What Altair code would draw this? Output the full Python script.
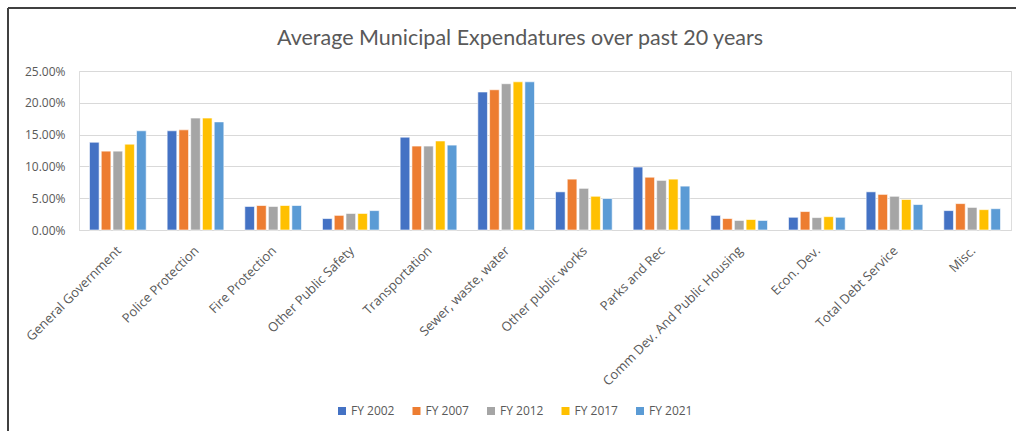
import altair as alt
import pandas as pd

categories = ["General Government", "Police Protection", "Fire Protection", "Other Public Safety",
              "Transportation", "Sewer, waste, water", "Other public works", "Parks and Rec",
              "Comm Dev. And Public Housing", "Econ. Dev.", "Total Debt Service", "Misc."]
years = ["FY 2002", "FY 2007", "FY 2012", "FY 2017", "FY 2021"]
fy2002 = [13.8, 15.6, 3.7, 1.8, 14.6, 21.7, 6.0, 9.9, 2.3, 2.0, 6.0, 3.05]
fy2007 = [12.4, 15.75, 3.85, 2.3, 13.2, 22.05, 8.0, 8.3, 1.8, 2.9, 5.6, 4.15]
fy2012 = [12.4, 17.6, 3.7, 2.6, 13.2, 23.0, 6.55, 7.8, 1.5, 1.95, 5.3, 3.55]
fy2017 = [13.5, 17.6, 3.85, 2.6, 14.0, 23.3, 5.3, 8.0, 1.65, 2.1, 4.8, 3.2]
fy2021 = [15.6, 17.0, 3.85, 3.05, 13.35, 23.3, 4.95, 6.9, 1.5, 2.0, 4.0, 3.35]
colors = ["#4472C4", "#ED7D31", "#A5A5A5", "#FFC000", "#5B9BD5"]

series = [fy2002, fy2007, fy2012, fy2017, fy2021]
rows = []
for y, vals in zip(years, series):
    for c, v in zip(categories, vals):
        rows.append({"category": c, "year": y, "value": v / 100.0})
df = pd.DataFrame(rows)

LABEL = "#595959"
FONT = "Open Sans"

bars = alt.Chart(df).mark_bar(stroke="white", strokeWidth=0.6).encode(
    x=alt.X("category:N", sort=categories, title=None,
            scale=alt.Scale(paddingInner=0.27, paddingOuter=0.135),
            axis=alt.Axis(labelAngle=-45, labelAlign="right", labelBaseline="top",
                          labelPadding=14, labelOffset=-3, ticks=False, domainColor="#D9D9D9",
                          labelColor=LABEL, labelFont=FONT, labelFontSize=13,
                          labelLimit=300, labelOverlap=False)),
    xOffset=alt.XOffset("year:N", sort=years, scale=alt.Scale(paddingInner=0.18, paddingOuter=0)),
    y=alt.Y("value:Q", title=None,
            scale=alt.Scale(domain=[0, 0.25], nice=False),
            axis=alt.Axis(format=".2%", values=[0, 0.05, 0.10, 0.15, 0.20, 0.25],
                          domain=False, ticks=False, gridColor="#D9D9D9",
                          labelColor=LABEL, labelFont=FONT, labelFontSize=12,
                          labelPadding=14)),
    color=alt.Color("year:N", sort=years, title=None,
                    scale=alt.Scale(domain=years, range=colors),
                    legend=alt.Legend(orient="none", direction="horizontal",
                                      legendX=257, legendY=334,
                                      symbolType="square", symbolSize=64,
                                      symbolStrokeWidth=0,
                                      labelColor=LABEL, labelFont=FONT, labelFontSize=12,
                                      columnPadding=15.5, labelOffset=3)),
)

border_top = alt.Chart(df).mark_rule(color="#404040", strokeWidth=1.5).encode(
    x=alt.value(-71), x2=alt.value(940), y=alt.value(-63))
border_left = alt.Chart(df).mark_rule(color="#404040", strokeWidth=1.5).encode(
    x=alt.value(-71), y=alt.value(-63), y2=alt.value(365))

chart = alt.layer(bars, border_top, border_left).properties(
    width=932, height=159,
    title=alt.Title("Average Municipal Expendatures over past 20 years",
                    font="Lato", fontSize=21.5, fontWeight="normal", color=LABEL,
                    anchor="middle", frame="group", dx=-25, offset=-42),
    autosize="none",
    padding={"left": 79, "top": 71, "right": 5, "bottom": 201},
).configure_view(stroke=None).configure(background="white")

chart.save("out.html", embed_options={"renderer": "svg", "actions": False})
